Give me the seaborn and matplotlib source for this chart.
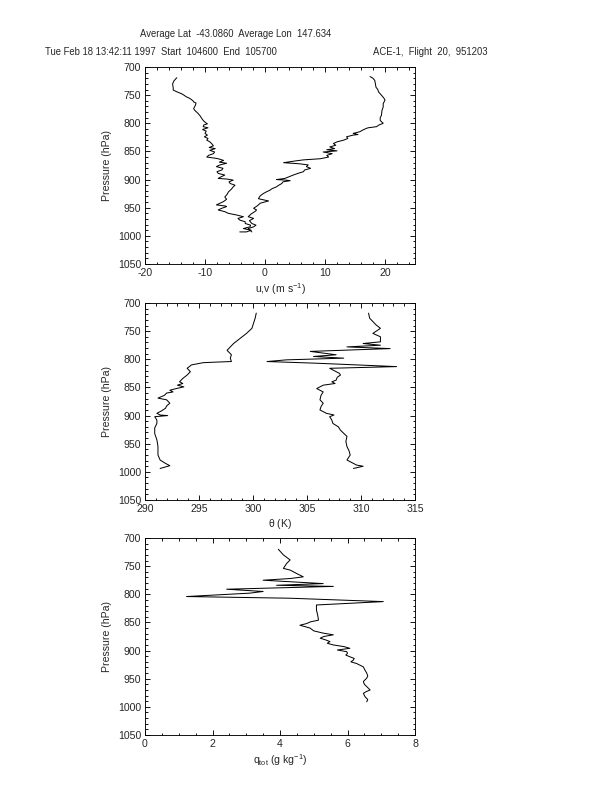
import numpy as np
import pandas as pd
import matplotlib
matplotlib.use("Agg")
import matplotlib.pyplot as plt
from matplotlib.ticker import MultipleLocator
import seaborn as sns

# ---------------- data ----------------
p_u = [719, 725, 730, 737, 741, 744, 748, 753, 756, 760, 762, 764, 768, 774, 777, 782,
       787, 792, 795, 798, 801, 803, 806, 808, 811, 814, 818, 821, 824, 827, 830, 833,
       836, 840, 843, 845, 848, 851, 854, 857, 860, 862, 863, 866, 869, 871, 874, 877,
       880, 883, 886, 889, 892, 895, 898, 899, 901, 904, 907, 910, 913, 917, 922, 926,
       931, 935, 939, 942, 945, 947, 948, 951, 954, 957, 960, 963, 966, 969, 972, 975,
       978, 981, 984, 987, 990, 993, 993]
u = [-14.7, -15.2, -15.4, -15.3, -15.3, -14.7, -13.8, -13.1, -12.5, -12.0, -11.9, -11.5,
     -11.6, -11.9, -11.7, -11.2, -10.8, -10.5, -10.3, -10.0, -9.6, -10.2, -10.3, -9.5,
     -10.4, -9.8, -10.0, -9.6, -10.1, -9.5, -9.7, -9.2, -8.9, -8.6, -9.3, -8.3, -9.2,
     -8.4, -8.6, -9.4, -9.7, -8.3, -7.8, -6.9, -7.6, -6.4, -7.5, -8.1, -7.0, -7.2, -8.0,
     -7.8, -6.7, -7.3, -7.8, -6.4, -5.3, -6.0, -5.8, -5.0, -5.3, -5.6, -6.1, -6.3, -6.7,
     -6.4, -6.9, -7.5, -8.1, -6.6, -6.4, -7.2, -7.8, -6.7, -6.1, -4.7, -3.6, -4.5, -4.2,
     -3.3, -3.3, -2.4, -2.5, -3.6, -2.3, -3.1, -4.2]

p_v = [717, 720, 724, 730, 736, 740, 744, 750, 755, 759, 765, 771, 777, 786, 790, 795,
       800, 803, 806, 808, 809, 812, 815, 818, 820, 821, 824, 827, 830, 833, 836, 839,
       842, 845, 847, 849, 851, 854, 857, 860, 863, 865, 867, 870, 872, 874, 877, 880,
       883, 886, 889, 892, 895, 898, 900, 901, 902, 904, 907, 910, 913, 916, 919, 922,
       925, 929, 934, 938, 942, 946, 951, 954, 957, 961, 966, 969, 973, 978, 981, 984,
       987, 990, 993]
v = [17.5, 18.0, 18.3, 18.4, 18.5, 18.8, 18.9, 19.4, 19.8, 20.0, 19.7, 19.7, 19.5, 19.4,
     19.2, 19.2, 19.7, 19.0, 18.6, 17.2, 16.9, 16.3, 15.8, 14.7, 15.5, 14.7, 13.6, 13.8,
     13.1, 12.0, 11.4, 11.8, 10.8, 11.6, 10.3, 12.0, 9.7, 11.2, 10.3, 10.6, 9.2, 6.4, 5.0,
     3.1, 5.8, 7.2, 6.9, 7.6, 6.6, 6.4, 5.5, 4.7, 4.0, 3.3, 1.9, 3.5, 4.2, 3.0, 2.8, 2.3,
     1.9, 1.2, 0.8, 0.2, -0.3, -0.8, -1.1, 0.6, -0.8, -1.2, -1.9, -1.4, -1.7, -2.3, -2.8,
     -1.9, -2.6, -2.2, -1.5, -1.9, -2.8, -2.5, -2.2]

p_th1 = [718, 727, 745, 754, 763, 772, 778, 784, 792, 798, 804, 805, 806, 810, 816, 822,
         828, 834, 840, 843, 846, 849, 852, 855, 858, 860, 864, 869, 872, 878, 883, 887,
         892, 896, 899, 900, 902, 908, 914, 922, 932, 943, 955, 962, 970, 979, 985, 989,
         994]
theta1 = [300.3, 300.2, 299.9, 299.4, 298.8, 298.2, 297.9, 297.6, 298.0, 297.9, 298.0,
          296.6, 295.4, 294.3, 293.9, 294.2, 293.9, 293.5, 293.2, 293.5, 293.0, 293.6,
          292.9, 292.3, 292.6, 292.0, 291.8, 291.2, 292.0, 292.3, 292.0, 291.9, 291.5,
          291.1, 291.4, 292.1, 290.9, 291.1, 291.1, 290.9, 290.9, 291.1, 291.2, 291.2,
          291.2, 291.4, 291.9, 292.3, 291.4]

p_th2 = [718, 727, 739, 745, 754, 760, 769, 772, 775, 778, 781, 786, 792, 795, 798, 801,
         804, 807, 813, 816, 822, 825, 828, 832, 837, 840, 843, 846, 852, 858, 864, 872,
         878, 884, 890, 896, 899, 902, 908, 914, 920, 926, 937, 946, 955, 963, 970, 979,
         988, 990, 994]
theta2 = [310.7, 310.8, 311.4, 311.8, 311.1, 311.8, 311.8, 310.2, 311.8, 308.7, 312.7,
          305.3, 307.7, 305.6, 308.4, 303.1, 301.3, 305.9, 313.3, 307.1, 307.7, 308.0,
          308.1, 307.8, 307.7, 307.3, 307.6, 306.5, 305.9, 306.5, 306.3, 306.2, 306.5,
          306.3, 306.2, 306.8, 307.5, 307.1, 307.3, 307.4, 307.9, 308.1, 308.7, 308.6,
          308.7, 308.9, 309.0, 308.7, 309.6, 310.2, 309.3]

p_q = [720, 730, 739, 745, 754, 757, 763, 769, 772, 775, 781, 784, 786, 791, 795, 798,
       804, 807, 813, 819, 828, 838, 846, 849, 852, 855, 860, 865, 869, 872, 875, 878,
       881, 884, 887, 890, 893, 896, 899, 902, 905, 908, 911, 914, 917, 920, 923, 929,
       935, 940, 945, 949, 955, 960, 964, 970, 973, 976, 982, 987, 991]
q = [3.95, 4.1, 4.3, 4.2, 4.1, 4.3, 4.49, 4.69, 4.3, 3.5, 5.28, 3.9, 5.58, 2.42, 3.5,
     3.1, 1.23, 4.3, 7.06, 5.08, 5.08, 5.12, 5.14, 4.9, 4.79, 4.59, 4.89, 5.0, 5.28,
     5.58, 5.3, 5.19, 5.35, 5.48, 5.4, 5.58, 5.9, 6.07, 5.7, 5.98, 6.0, 5.95, 6.07, 6.2,
     6.17, 6.1, 6.27, 6.47, 6.52, 6.57, 6.6, 6.57, 6.47, 6.5, 6.57, 6.67, 6.55, 6.47,
     6.52, 6.6, 6.57]

header1 = "Average Lat  -43.0860  Average Lon  147.634"
header2_left = "Tue Feb 18 13:42:11 1997  Start  104600  End  105700"
header2_right = "ACE-1,  Flight  20,  951203"

# ---------------- styling ----------------
sns.set_style("ticks")
plt.rcParams['font.family'] = ['Liberation Sans', 'DejaVu Sans']
plt.rcParams['mathtext.fontset'] = 'custom'
plt.rcParams['mathtext.rm'] = 'Liberation Sans'
plt.rcParams['mathtext.it'] = 'Liberation Sans'
plt.rcParams['axes.unicode_minus'] = False
FS = 10.5
HFS = 9.5

W, H = 612, 792
fig = plt.figure(figsize=(W / 72, H / 72), dpi=72)
fig.patch.set_facecolor('white')

def make_ax(top_px):
    left, right = 145, 415
    height = 197
    return fig.add_axes([left / W, 1 - (top_px + height) / H, (right - left) / W, height / H])

def style(ax, xlim, xmajor, xminor, xlabel):
    ax.set_facecolor('white')
    ax.set_xlim(*xlim)
    ax.set_ylim(1050, 700)
    ax.xaxis.set_major_locator(MultipleLocator(xmajor))
    ax.xaxis.set_minor_locator(MultipleLocator(xminor))
    ax.yaxis.set_major_locator(MultipleLocator(50))
    ax.yaxis.set_minor_locator(MultipleLocator(10))
    ax.tick_params(which='both', direction='in', top=True, right=True,
                   color='black', width=0.9)
    ax.tick_params(which='major', length=5, labelsize=FS, pad=4)
    ax.tick_params(which='minor', length=2.5)
    for s in ax.spines.values():
        s.set_linewidth(0.9)
        s.set_color('black')
    ax.set_xlabel(xlabel, fontsize=FS, labelpad=3)
    ax.set_ylabel("Pressure (hPa)", fontsize=FS, labelpad=6)

def draw(ax, xs, ps):
    df = pd.DataFrame({"x": xs, "p": ps})
    sns.lineplot(data=df, x="x", y="p", sort=False, estimator=None,
                 color='black', lw=1.0, ax=ax)

ax1 = make_ax(67)
draw(ax1, u, p_u)
draw(ax1, v, p_v)
style(ax1, (-20, 25), 10, 2, r"u,v (m s$^{-1}$)")

ax2 = make_ax(303)
draw(ax2, theta1, p_th1)
draw(ax2, theta2, p_th2)
style(ax2, (290, 315), 5, 1, r"$\theta$ (K)")

ax3 = make_ax(538)
draw(ax3, q, p_q)
style(ax3, (0, 8), 2, 0.5, r"q$_{\mathrm{tot}}$ (g kg$^{-1}$)")

fig.text(236 / W, 1 - 34 / H, header1, ha='center', va='center', fontsize=HFS)
fig.text(45 / W, 1 - 52 / H, header2_left, ha='left', va='center', fontsize=HFS)
fig.text(373 / W, 1 - 52 / H, header2_right, ha='left', va='center', fontsize=HFS)

fig.savefig("out.png", dpi=72, facecolor='white')
